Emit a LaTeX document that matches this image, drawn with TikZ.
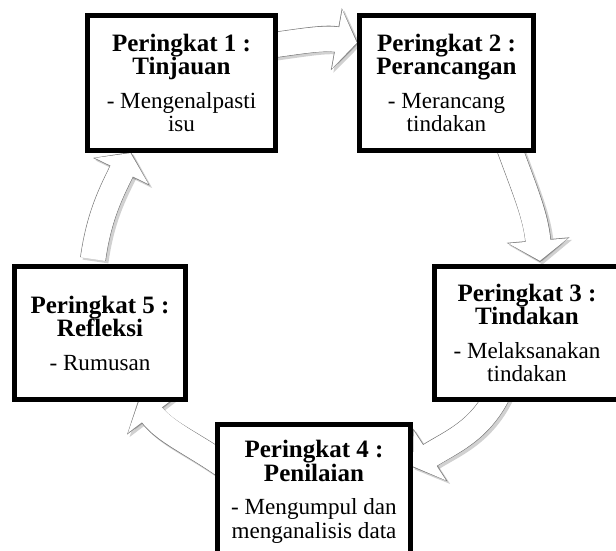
\documentclass[tikz,border=0pt]{standalone}
\usepackage{fontspec}
\setmainfont{Liberation Serif}
\usetikzlibrary{positioning,calc,arrows.meta,backgrounds}

\newcommand{\tajuk}{\fontsize{25}{23.5}\selectfont\bfseries}
\newcommand{\panah}[4]{%
	\draw[panah bayang]  (#1) to[out=#3,in=#4] (#2);
	\draw[panah garis]   (#1) to[out=#3,in=#4] (#2);
	\draw[panah isi]     (#1) to[out=#3,in=#4] (#2);
	\draw[panah sambung] (#1) to[out=#3,in=#4] (#2);
}

\begin{document}
\begin{tikzpicture}[
	x=1pt, y=1pt,
	kotak/.style={
		draw=black, line width=5pt, fill=white,
		align=center, inner sep=0pt,
		font=\fontsize{23.1}{23.5}\selectfont
	},
	panah bayang/.style={
		line width=26pt, black, opacity=0.18,
		transform canvas={xshift=2.5pt,yshift=-2.5pt},
		-{Triangle[width=62pt,length=22pt]}
	},
	panah garis/.style={
		line width=26pt, gray,
		-{Triangle[width=62pt,length=22pt]}
	},
	panah isi/.style={
		line width=24.4pt, white, shorten >=1.2pt,
		-{Triangle[width=58.5pt,length=20pt]}
	},
	panah sambung/.style={
		line width=24.4pt, white, shorten >=14pt
	}
	]
	\useasboundingbox (0,0) rectangle (616,551);
	\clip (0,0) rectangle (616,551);
	
	% Kotak peringkat
	\node[kotak, minimum width=188pt, minimum height=135pt] (p1) at (181.5,468)
		{{\tajuk Peringkat 1 :}\\{\tajuk Tinjauan}\\[10pt]- Mengenalpasti\\isu};
	\node[kotak, minimum width=174pt, minimum height=135pt] (p2) at (446.5,468)
		{{\tajuk Peringkat 2 :}\\{\tajuk Perancangan}\\[10pt]- Merancang\\tindakan};
	\node[kotak, minimum width=185pt, minimum height=133pt] (p3) at (527,218)
		{{\tajuk Peringkat 3 :}\\{\tajuk Tindakan}\\[10pt]- Melaksanakan\\tindakan};
	\node[kotak, minimum width=193pt, minimum height=135pt] (p4) at (314,59)
		{{\tajuk Peringkat 4 :}\\{\tajuk Penilaian}\\[10pt]- Mengumpul dan\\menganalisis data};
	\node[kotak, minimum width=171pt, minimum height=133pt] (p5) at (100,218)
		{{\tajuk Peringkat 5 :}\\{\tajuk Refleksi}\\[10pt]- Rumusan};
	
	% Hujung anak panah
	\coordinate (a1) at ($(p1.east)+(-4,38)$);
	\coordinate (b1) at ($(p2.west)+(1,40)$);
	\coordinate (a2) at ($(p2.south)+(62.5,6)$);
	\coordinate (b2) at ($(p3.north)+(13,2)$);
	\coordinate (a3) at ($(p3.south)+(-28,10)$);
	\coordinate (b3) at ($(p4.east)+(-1,25)$);
	\coordinate (a4) at ($(p4.west)+(11,25)$);
	\coordinate (b4) at ($(p5.south)+(39,4)$);
	\coordinate (a5) at ($(p5.north)+(-7,5)$);
	\coordinate (b5) at ($(p1.south)+(-50.5,1)$);
	
	% Anak panah di bawah kotak
	\begin{scope}[on background layer]
		\panah{a1}{b1}{8}{170}
		\panah{a2}{b2}{-70}{95}
		\panah{a3}{b3}{-116}{33}
		\panah{a4}{b4}{145}{-53}
		\panah{a5}{b5}{82}{-116}
	\end{scope}
\end{tikzpicture}
\end{document}
